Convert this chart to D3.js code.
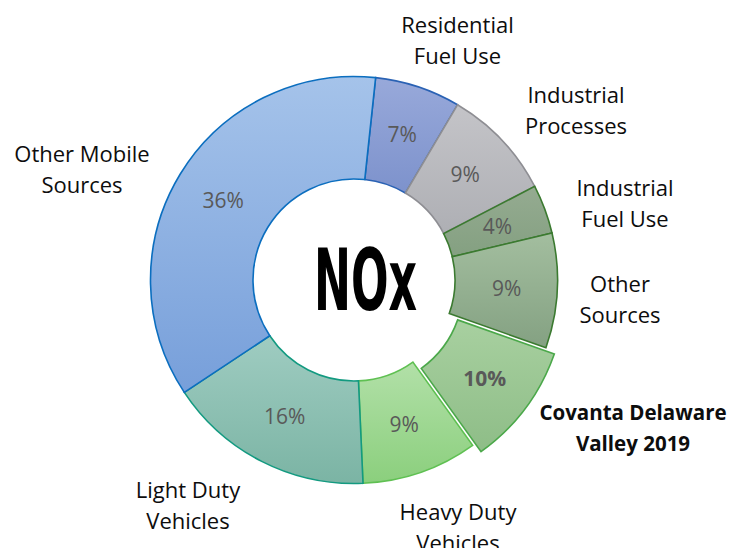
<!DOCTYPE html>
<html>
<head>
<meta charset="utf-8">
<script src="https://cdn.jsdelivr.net/npm/d3@7"></script>
<style>
  html, body { margin: 0; padding: 0; background: #ffffff; }
  svg { display: block; }
</style>
</head>
<body>
<div id="chart"></div>
<script>
// NOx donut, share of emissions by source (clockwise from top)
var categories = ["Residential Fuel Use", "Industrial Processes", "Industrial Fuel Use",
                  "Other Sources", "Covanta Delaware Valley 2019", "Heavy Duty Vehicles",
                  "Light Duty Vehicles", "Other Mobile Sources"];
var values = [6.8, 8.9, 3.9, 9.1, 9.7, 9.2, 16.4, 36.0];
var labelLines = [["Residential", "Fuel Use"], ["Industrial", "Processes"], ["Industrial", "Fuel Use"],
                  ["Other", "Sources"], ["Covanta Delaware", "Valley 2019"], ["Heavy Duty", "Vehicles"],
                  ["Light Duty", "Vehicles"], ["Other Mobile", "Sources"]];
var highlight = "Covanta Delaware Valley 2019";
var centerTitle = "NOx";

// styling / layout (not data)
var fillTop    = ["#98a9da", "#c4c4c8", "#95ab91", "#a3be9f", "#a8d0a0", "#b2e0a8", "#9fccc1", "#a5c3ea"];
var fillBottom = ["#7d92cc", "#aeafb4", "#84a081", "#84a182", "#8ebd87", "#8bcf7d", "#7bb4a4", "#779fda"];
var strokes    = ["#2a62b4", "#8e8e93", "#3b7a30", "#3b7a30", "#4ba84a", "#5fc052", "#139a80", "#0b6ebf"];
var labelPos = [[457.5, 33], [576, 103], [625, 196], [620, 292], [633, 420], [458, 520], [188, 498], [82, 162]];

var width = 731, height = 548;
var cx = 354, cy = 280;
var rOuter = 203.5, rInner = 101, rLabel = 153;
var explode = 10.5;
var startAngle = 6.1 * Math.PI / 180;

var svg = d3.select("#chart").append("svg")
    .attr("width", width)
    .attr("height", height);

var defs = svg.append("defs");
fillTop.forEach(function(c, i) {
    var g = defs.append("linearGradient")
        .attr("id", "grad" + i)
        .attr("x1", 0).attr("y1", 0).attr("x2", 0).attr("y2", 1);
    g.append("stop").attr("offset", "0%").attr("stop-color", fillTop[i]);
    g.append("stop").attr("offset", "100%").attr("stop-color", fillBottom[i]);
});

var pie = d3.pie()
    .sort(null)
    .value(function(d) { return d; })
    .startAngle(startAngle)
    .endAngle(startAngle + 2 * Math.PI);

var arcs = pie(values);
var total = d3.sum(values);

var arc = d3.arc().innerRadius(rInner).outerRadius(rOuter);
var labelArc = d3.arc().innerRadius(rLabel).outerRadius(rLabel);

function shift(d, i) {
    if (categories[i] !== highlight) return [0, 0];
    var a = (d.startAngle + d.endAngle) / 2;
    return [explode * Math.sin(a), -explode * Math.cos(a)];
}

var g = svg.append("g")
    .attr("transform", "translate(" + cx + "," + cy + ")");

var slices = g.selectAll("g.slice")
    .data(arcs)
    .enter().append("g")
    .attr("class", "slice")
    .attr("transform", function(d, i) { var s = shift(d, i); return "translate(" + s[0] + "," + s[1] + ")"; });

slices.append("path")
    .attr("d", arc)
    .attr("fill", function(d, i) { return "url(#grad" + i + ")"; })
    .attr("stroke", function(d, i) { return strokes[i]; })
    .attr("stroke-width", 1.6)
    .attr("stroke-linejoin", "miter");

var pct = d3.format(".0%");
slices.append("text")
    .attr("transform", function(d) { return "translate(" + labelArc.centroid(d) + ")"; })
    .attr("text-anchor", "middle")
    .attr("dy", "0.36em")
    .style("font-family", "'Open Sans', 'DejaVu Sans', sans-serif")
    .style("font-size", "21px")
    .style("font-weight", function(d, i) { return categories[i] === highlight ? "bold" : "normal"; })
    .attr("fill", "#595959")
    .text(function(d) { return pct(d.value / total); });

// category labels outside the ring
var cat = svg.append("g").selectAll("text")
    .data(labelLines)
    .enter().append("text")
    .attr("x", function(d, i) { return labelPos[i][0]; })
    .attr("y", function(d, i) { return labelPos[i][1]; })
    .attr("text-anchor", "middle")
    .style("font-family", "'Open Sans', 'DejaVu Sans', sans-serif")
    .style("font-size", function(d, i) { return categories[i] === highlight ? "20.5px" : "22px"; })
    .style("font-weight", function(d, i) { return categories[i] === highlight ? "bold" : "normal"; })
    .attr("fill", "#0d0d0d");

cat.selectAll("tspan")
    .data(function(d, i) { return d.map(function(t) { return {t: t, i: i}; }); })
    .enter().append("tspan")
    .attr("x", function(d) { return labelPos[d.i][0]; })
    .attr("dy", function(d, j) { return j === 0 ? 0 : 30.5; })
    .text(function(d) { return d.t; });

// big title in the hole
svg.append("text")
    .attr("x", 365.5)
    .attr("y", 310)
    .attr("text-anchor", "middle")
    .attr("textLength", 103)
    .attr("lengthAdjust", "spacingAndGlyphs")
    .style("font-family", "'Liberation Sans Narrow', 'DejaVu Sans Condensed', sans-serif")
    .style("font-size", "86px")
    .style("font-weight", "bold")
    .attr("fill", "#000000")
    .text(centerTitle);
</script>
</body>
</html>
